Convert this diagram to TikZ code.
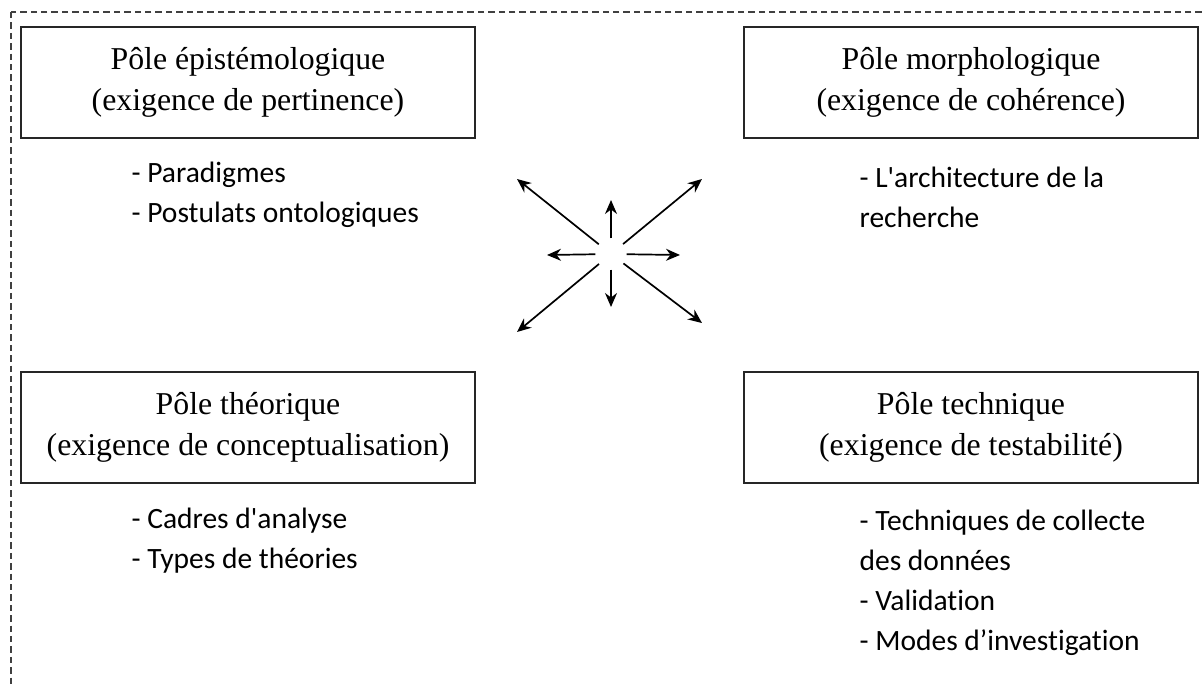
\documentclass[tikz,border=0pt]{standalone}
\usepackage{fontspec}
\setmainfont{Liberation Serif}
\newfontfamily\listfont[Ligatures=NoCommon]{Carlito}
\usetikzlibrary{arrows.meta,positioning}

\begin{document}
\begin{tikzpicture}[x=0.5pt,y=-0.5pt,semithick]
	  \tikzstyle{pole}=[rectangle,draw=black!85,line width=1pt,minimum width=227pt,minimum height=55.5pt,align=center,inner sep=0pt,font=\fontsize{15.9}{20.8}\selectfont]
	  \tikzstyle{items}=[align=left,inner sep=0pt,font=\listfont\fontsize{14.75}{20}\selectfont]
	  \tikzstyle{ray}=[line width=0.85pt,-{Stealth[length=7pt,width=6pt]}]

	  \useasboundingbox (0,0) rectangle (1204,686);
	  \clip (0,0) rectangle (1204,686);
	  \draw[black!75,line width=0.65pt,dash pattern=on 3.2pt off 2pt] (11,12) rectangle (1240,720);

	  \node[pole] (epi) at (248,82.5) {Pôle épistémologique\\(exigence de pertinence)};
	  \node[pole] (morpho) [right=133.5pt of epi] {Pôle morphologique\\(exigence de cohérence)};
	  \node[pole] (theo) [below=116pt of epi] {Pôle théorique\\(exigence de conceptualisation)};
	  \node[pole] (tech) [below=116pt of morpho] {Pôle technique\\(exigence de testabilité)};

	  \node[items] (epilist) [below right=11pt and 55.5pt of epi.south west]
	    {- Paradigmes\\- Postulats ontologiques};
	  \node[items] (morpholist) [below right=13.5pt and 58pt of morpho.south west]
	    {- L\textquotesingle architecture de la\\recherche};
	  \node[items] (theolist) [below right=11.5pt and 55.5pt of theo.south west]
	    {- Cadres d\textquotesingle analyse\\- Types de théories};
	  \node[items] (techlist) [below right=12.5pt and 58pt of tech.south west]
	    {- Techniques de collecte\\des données\\- Validation\\- Modes d’investigation};

	  % arrows in the middle
	  \node[circle,minimum size=15pt,inner sep=0pt] (hub) at (611,254) {};
	  \coordinate (tipn) at (611,200);
	  \coordinate (tips) at (611,307);
	  \coordinate (tipw) at (547,255);
	  \coordinate (tipe) at (680,255);
	  \coordinate (tipnw) at (517,179);
	  \coordinate (tipne) at (702,179);
	  \coordinate (tipsw) at (517,332);
	  \coordinate (tipse) at (702,323);
	  \foreach \d in {n,s,w,e,nw,ne,sw,se}
	    \draw[ray] (hub) -- (tip\d);
	\end{tikzpicture}
\end{document}
